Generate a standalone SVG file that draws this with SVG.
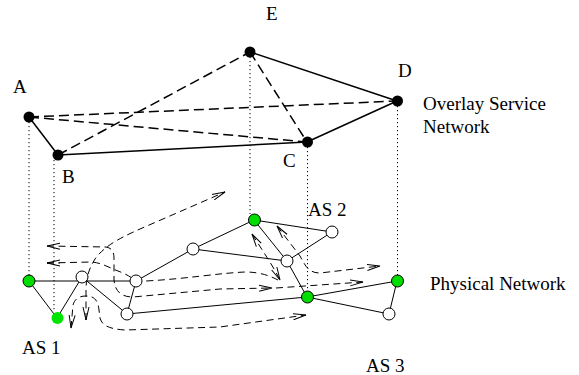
<svg xmlns="http://www.w3.org/2000/svg" width="579" height="375" viewBox="0 0 579 375">
<style>
  text { font-family: "Liberation Serif", "Times New Roman", serif; font-size: 19px; fill: #000; }
  .ov { stroke: #000; stroke-width: 1.5; fill: none; }
  .ovd { stroke: #000; stroke-width: 1.5; fill: none; stroke-dasharray: 10,5; }
  .dot { stroke: #000; stroke-width: 1; fill: none; stroke-dasharray: 1.2,2.8; }
  .ph { stroke: #000; stroke-width: 1; fill: none; }
  .pd { stroke: #000; stroke-width: 1; fill: none; stroke-dasharray: 7,4.5; }
  .arr { marker-start: url(#ah); marker-end: url(#ah); }
  .arre { marker-end: url(#ah); }
  .onode { fill: #000; }
  .wnode { fill: #fff; stroke: #000; stroke-width: 1; }
  .gnode { fill: #00dd00; stroke: #000; stroke-width: 1; }
  .gnode2 { fill: #00e600; }
</style>
<defs>
  <marker id="ah" markerWidth="15" markerHeight="9" refX="13" refY="4.5" orient="auto-start-reverse" markerUnits="userSpaceOnUse">
    <path d="M0,1.5 L13,4.5 L0,7.5" fill="none" stroke="#000" stroke-width="1"/>
  </marker>
</defs>
<rect width="579" height="375" fill="#fff"/>

<g id="connectors">
  <!-- projection lines -->
  <line class="dot" x1="29" y1="122" x2="29" y2="276"/>
  <line class="dot" x1="54" y1="160" x2="54" y2="312"/>
  <line class="dot" x1="250" y1="57" x2="250" y2="214"/>
  <line class="dot" x1="307.5" y1="147" x2="307.5" y2="291"/>
  <line class="dot" x1="397.5" y1="106" x2="397.5" y2="275"/>
  <!-- overlay edges -->
  <line class="ov" x1="29" y1="117" x2="58" y2="155"/>
  <line class="ov" x1="58" y1="155" x2="307" y2="142"/>
  <line class="ov" x1="307" y1="142" x2="397" y2="101"/>
  <line class="ov" x1="250" y1="52" x2="397" y2="101"/>
  <line class="ovd" x1="29" y1="117" x2="307" y2="142"/>
  <line class="ovd" x1="29" y1="117" x2="397" y2="101"/>
  <line class="ovd" x1="58" y1="155" x2="250" y2="52"/>
  <line class="ovd" x1="250" y1="52" x2="307" y2="142"/>
  <!-- physical dashed routes -->
  <path class="pd arr" d="M86,320 L86,290 C86,280 88,270 95,259 C103,248 115,240 140,229 L225,192"/>
  <path class="pd arr" d="M47,246 L106,247 C112,248 114,252 114,258 L114,280 C115,292 122,297 133,297 L220,289 L272,288"/>
  <path class="pd arre" d="M276,288 L363,282"/>
  <path class="pd" d="M47,263 L92,262 C102,263 110,268 118,271 C126,274 131,277 136,281 L146,281 C185,279 220,273 245,272 C262,272 272,277 278,280"/>
  <path class="pd" d="M47,263 L60,263" style="marker-start:url(#ah)"/>
  <path class="pd arr" d="M252,234 C262,250 272,264 280,280"/>
  <path class="pd arr" d="M277,226 L300,256 C305,265 308,273 320,273 L380,266"/>
  <path class="pd arr" d="M71,328 L73,305 C75,298 80,296 86,296 C94,296 98,300 99,310 L100,318 C102,326 110,329 125,330 L220,327 L306,315"/>
  <!-- physical edges -->
  <line class="ph" x1="29" y1="281" x2="136" y2="281"/>
  <line class="ph" x1="29" y1="281" x2="57" y2="318"/>
  <line class="ph" x1="57" y1="318" x2="82" y2="277"/>
  <line class="ph" x1="82" y1="277" x2="127" y2="314"/>
  <line class="ph" x1="136" y1="281" x2="127" y2="314"/>
  <line class="ph" x1="136" y1="281" x2="193" y2="249"/>
  <line class="ph" x1="193" y1="249" x2="254" y2="220"/>
  <line class="ph" x1="193" y1="249" x2="287" y2="261"/>
  <line class="ph" x1="254" y1="220" x2="332" y2="232"/>
  <line class="ph" x1="254" y1="220" x2="287" y2="261"/>
  <line class="ph" x1="287" y1="261" x2="332" y2="232"/>
  <line class="ph" x1="287" y1="261" x2="307" y2="297"/>
  <line class="ph" x1="127" y1="314" x2="307" y2="297"/>
  <line class="ph" x1="307" y1="297" x2="397" y2="281"/>
  <line class="ph" x1="307" y1="297" x2="389" y2="314"/>
  <line class="ph" x1="397" y1="281" x2="389" y2="314"/>
</g>

<g id="node-A"><circle class="onode" cx="29" cy="117" r="5.5"/><text x="13" y="93">A</text></g>
<g id="node-B"><circle class="onode" cx="58" cy="155" r="5.5"/><text x="62" y="183">B</text></g>
<g id="node-C"><circle class="onode" cx="307.5" cy="142" r="5.5"/><text x="283" y="167">C</text></g>
<g id="node-D"><circle class="onode" cx="397.5" cy="101" r="5.5"/><text x="398" y="77">D</text></g>
<g id="node-E"><circle class="onode" cx="250" cy="52" r="5.5"/><text x="266" y="20">E</text></g>

<g id="p1"><circle class="gnode" cx="29" cy="281" r="6"/></g>
<g id="p2"><circle class="gnode2" cx="57.5" cy="318" r="6"/></g>
<g id="p3"><circle class="wnode" cx="82" cy="277" r="6"/></g>
<g id="p4"><circle class="wnode" cx="136" cy="281" r="6"/></g>
<g id="p5"><circle class="wnode" cx="127" cy="314" r="6"/></g>
<g id="p6"><circle class="wnode" cx="193" cy="249" r="6"/></g>
<g id="p7"><circle class="gnode" cx="254.5" cy="220" r="6"/></g>
<g id="p8"><circle class="wnode" cx="332" cy="232" r="6"/></g>
<g id="p9"><circle class="wnode" cx="287" cy="261" r="6"/></g>
<g id="p10"><circle class="gnode" cx="307.5" cy="297" r="6"/></g>
<g id="p11"><circle class="gnode" cx="397.5" cy="281" r="6"/></g>
<g id="p12"><circle class="wnode" cx="389" cy="314" r="6"/></g>

<g id="labels">
  <text x="423" y="110">Overlay Service</text>
  <text x="423" y="133">Network</text>
  <text x="430" y="290">Physical Network</text>
  <text x="22" y="354">AS 1</text>
  <text x="308" y="216">AS 2</text>
  <text x="366" y="372">AS 3</text>
</g>
</svg>
